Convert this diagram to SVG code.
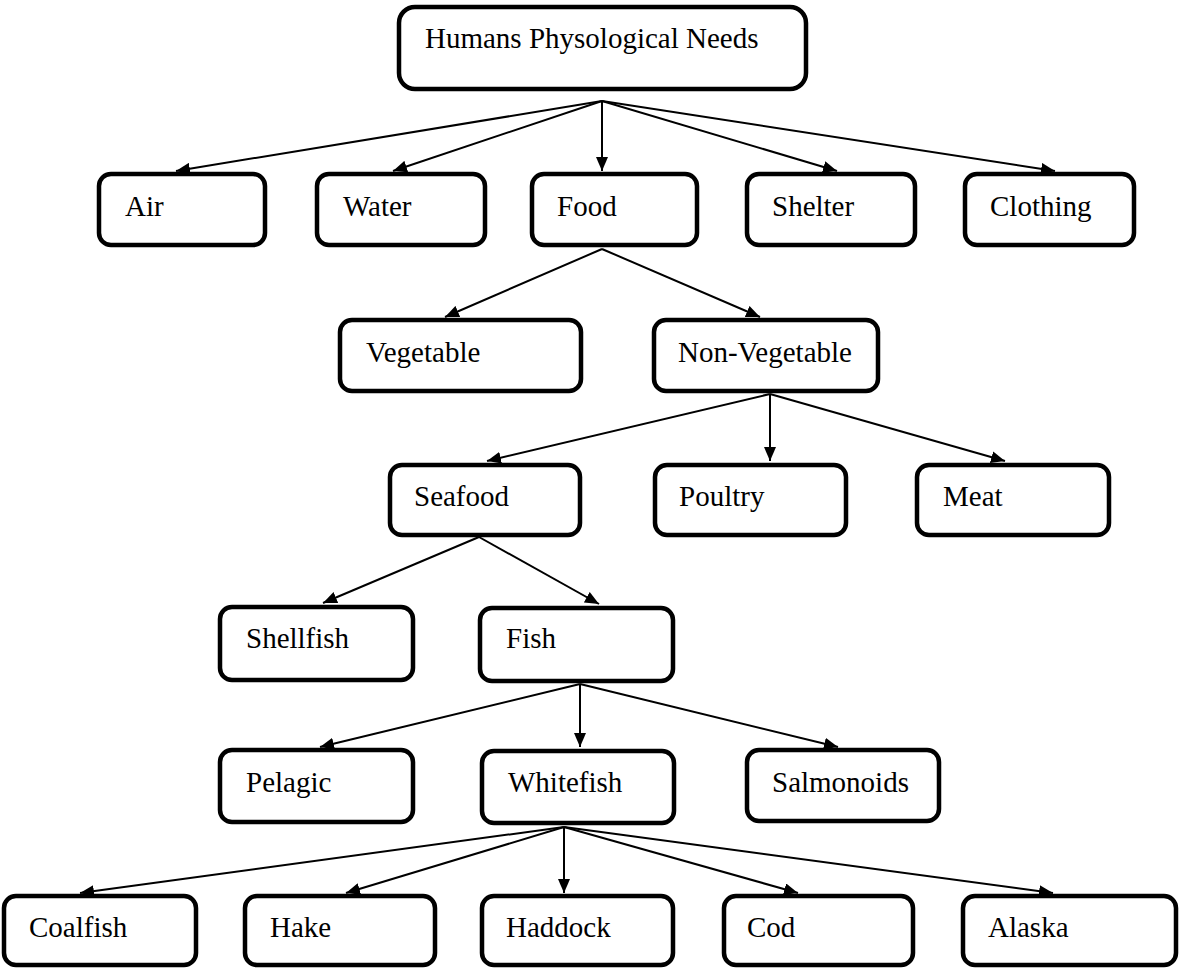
<svg xmlns="http://www.w3.org/2000/svg" width="1181" height="971" viewBox="0 0 1181 971">
<style>
.box{fill:#fff;stroke:#000;stroke-width:4.5}
.lbl{font-family:"Liberation Serif","Times New Roman",serif;font-size:29px;fill:#000}
.edge{stroke:#000;stroke-width:2;fill:none;marker-end:url(#arr)}
</style>
<defs>
<marker id="arr" viewBox="0 0 14 12" refX="14" refY="6" markerWidth="14" markerHeight="12" markerUnits="userSpaceOnUse" orient="auto">
<path d="M0,0 L14,6 L0,12 z" fill="#000"/>
</marker>
</defs>
<rect width="1181" height="971" fill="#fff"/>
<g id="connectors">
<line class="edge" x1="602" y1="101" x2="176" y2="171"/>
<line class="edge" x1="602" y1="101" x2="393" y2="171"/>
<line class="edge" x1="602" y1="101" x2="602" y2="171"/>
<line class="edge" x1="602" y1="101" x2="837" y2="171"/>
<line class="edge" x1="602" y1="101" x2="1055" y2="171"/>
<line class="edge" x1="602" y1="249" x2="445" y2="317"/>
<line class="edge" x1="602" y1="249" x2="760" y2="317"/>
<line class="edge" x1="770" y1="394" x2="487" y2="461"/>
<line class="edge" x1="770" y1="394" x2="770" y2="461"/>
<line class="edge" x1="770" y1="394" x2="1005" y2="461"/>
<line class="edge" x1="479" y1="537" x2="323" y2="603"/>
<line class="edge" x1="479" y1="537" x2="599" y2="604"/>
<line class="edge" x1="580" y1="684" x2="320" y2="747"/>
<line class="edge" x1="580" y1="684" x2="580" y2="747"/>
<line class="edge" x1="580" y1="684" x2="838" y2="747"/>
<line class="edge" x1="564" y1="827" x2="80" y2="893"/>
<line class="edge" x1="564" y1="827" x2="346" y2="893"/>
<line class="edge" x1="564" y1="827" x2="564" y2="893"/>
<line class="edge" x1="564" y1="827" x2="798" y2="893"/>
<line class="edge" x1="564" y1="827" x2="1053" y2="893"/>
</g>
<g id="n-root"><rect class="box" x="399" y="7" width="407" height="82" rx="16"/><text class="lbl" x="425" y="48">Humans Physological Needs</text></g>
<g id="n-air"><rect class="box" x="99" y="174" width="166" height="71" rx="12"/><text class="lbl" x="125" y="216">Air</text></g>
<g id="n-water"><rect class="box" x="317" y="174" width="168" height="71" rx="12"/><text class="lbl" x="343" y="216">Water</text></g>
<g id="n-food"><rect class="box" x="532" y="174" width="165" height="71" rx="12"/><text class="lbl" x="557" y="216">Food</text></g>
<g id="n-shelter"><rect class="box" x="747" y="174" width="168" height="71" rx="12"/><text class="lbl" x="772" y="216">Shelter</text></g>
<g id="n-clothing"><rect class="box" x="965" y="174" width="169" height="71" rx="12"/><text class="lbl" x="990" y="216">Clothing</text></g>
<g id="n-vegetable"><rect class="box" x="340" y="320" width="241" height="71" rx="12"/><text class="lbl" x="366" y="362">Vegetable</text></g>
<g id="n-nonveg"><rect class="box" x="654" y="320" width="224" height="71" rx="12"/><text class="lbl" x="678" y="362">Non-Vegetable</text></g>
<g id="n-seafood"><rect class="box" x="390" y="465" width="190" height="70" rx="12"/><text class="lbl" x="414" y="506">Seafood</text></g>
<g id="n-poultry"><rect class="box" x="655" y="465" width="191" height="70" rx="12"/><text class="lbl" x="679" y="506">Poultry</text></g>
<g id="n-meat"><rect class="box" x="917" y="465" width="192" height="70" rx="12"/><text class="lbl" x="943" y="506">Meat</text></g>
<g id="n-shellfish"><rect class="box" x="220" y="607" width="193" height="73" rx="12"/><text class="lbl" x="246" y="648">Shellfish</text></g>
<g id="n-fish"><rect class="box" x="480" y="608" width="193" height="73" rx="12"/><text class="lbl" x="506" y="648">Fish</text></g>
<g id="n-pelagic"><rect class="box" x="220" y="750" width="193" height="72" rx="12"/><text class="lbl" x="246" y="792">Pelagic</text></g>
<g id="n-whitefish"><rect class="box" x="482" y="751" width="192" height="72" rx="12"/><text class="lbl" x="508" y="792">Whitefish</text></g>
<g id="n-salmonoids"><rect class="box" x="747" y="750" width="192" height="71" rx="12"/><text class="lbl" x="772" y="792">Salmonoids</text></g>
<g id="n-coalfish"><rect class="box" x="4" y="896" width="192" height="69" rx="12"/><text class="lbl" x="29" y="937">Coalfish</text></g>
<g id="n-hake"><rect class="box" x="245" y="896" width="190" height="69" rx="12"/><text class="lbl" x="270" y="937">Hake</text></g>
<g id="n-haddock"><rect class="box" x="482" y="896" width="191" height="69" rx="12"/><text class="lbl" x="506" y="937">Haddock</text></g>
<g id="n-cod"><rect class="box" x="724" y="896" width="189" height="69" rx="12"/><text class="lbl" x="747" y="937">Cod</text></g>
<g id="n-alaska"><rect class="box" x="963" y="896" width="213" height="69" rx="12"/><text class="lbl" x="988" y="937">Alaska</text></g>
</svg>
